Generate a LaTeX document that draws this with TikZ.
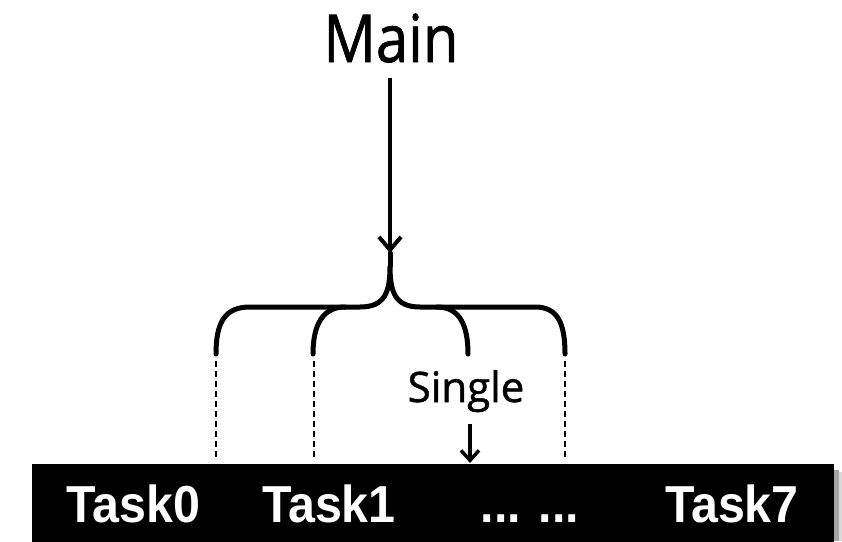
\documentclass[tikz,border=0pt]{standalone}
\usepackage{fontspec}
\setmainfont{Liberation Sans}
\newfontfamily\handfont[FakeBold=1.2]{Open Sans}
\usetikzlibrary{arrows.meta}
\begin{document}
\begin{tikzpicture}[x=1pt,y=-1pt,
  tasklabel/.style={anchor=base,text=white,font=\bfseries\fontsize{52}{52}\selectfont,inner sep=0pt},
  handlabel/.style={anchor=base,inner sep=0pt},
  bracepath/.style={line width=5pt,line cap=round},
  guide/.style={dash pattern=on 6pt off 4pt,line width=1.4pt},
  bigarrow/.style={line width=4pt,-{Straight Barb[length=13pt,width=22pt,line width=4pt]}},
  smallarrow/.style={line width=3.5pt,-{Straight Barb[length=10pt,width=18pt,line width=3.5pt]}}]
\useasboundingbox (0,0) rectangle (842,541);
\fill[white] (0,0) rectangle (842,541);
% bar with shadow
\fill[black!35] (834,470) rectangle (839,541);
\fill[black!15] (839,472) rectangle (842,541);
\fill[black] (32,464) rectangle (834,545);
\node[tasklabel] (t0) at (133.5,522) {\scalebox{0.93}[1]{Task0}};
\node[tasklabel] (t1) at (329,522) {\scalebox{0.93}[1]{Task1}};
\node[tasklabel] (td) at (530,522) {\scalebox{0.93}[1]{... ...}};
\node[tasklabel] (t7) at (732,522) {\scalebox{0.93}[1]{Task7}};
% Main
\node[handlabel,font=\handfont\fontsize{66}{66}\selectfont] (main) at (391,62) {\scalebox{0.88}[1]{Main}};
\coordinate (mainfoot) at (390,78);
\coordinate (tip) at (390,253);
\draw[bigarrow] (mainfoot) -- (tip);
% brace
\coordinate (cusp) at (390,266);
\coordinate (b0) at (216,354);
\coordinate (b1) at (313,354);
\coordinate (b2) at (468,354);
\coordinate (b3) at (565,354);
\draw[bracepath] (tip) -- (cusp);
\draw[bracepath] (b0) .. controls (216,322) and (225,307) .. (250,307) -- (360,307) .. controls (385,307) and (390,292) .. (cusp)
  .. controls (390,292) and (395,307) .. (420,307) -- (535,307) .. controls (557,307) and (565,322) .. (b3);
\draw[bracepath] (b1) .. controls (313,326) and (322,307) .. (345,307);
\draw[bracepath] (b2) .. controls (468,326) and (460,307) .. (437,307);
% dashed guides
\coordinate (d0) at (216,460);
\coordinate (d1) at (314,460);
\coordinate (d3) at (565,460);
\draw[guide] (216,361) -- (d0);
\draw[guide] (314,361) -- (d1);
\draw[guide] (565,361) -- (d3);
% Single
\node[handlabel,font=\handfont\fontsize{42}{42}\selectfont] (single) at (466,402) {Single};
\coordinate (sa) at (470,424);
\coordinate (sb) at (470,463);
\draw[smallarrow] (sa) -- (sb);
\end{tikzpicture}
\end{document}
